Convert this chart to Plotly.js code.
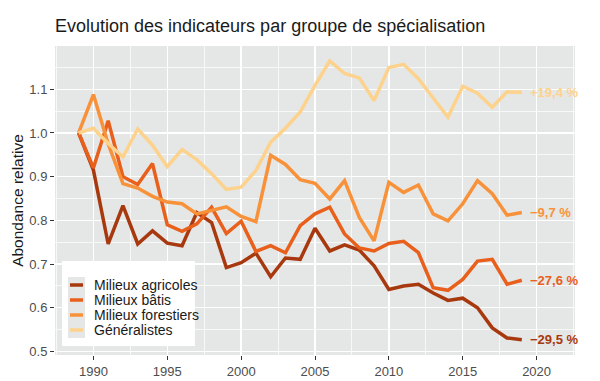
<!DOCTYPE html>
<html>
<head>
<meta charset="utf-8">
<script src="https://cdn.plot.ly/plotly-3.0.1.min.js"></script>
<style>html,body{margin:0;padding:0;background:#fff;}#chart{width:600px;height:381px;}</style>
</head>
<body>
<div id="chart"></div>
<script>
const years = [1989,1990,1991,1992,1993,1994,1995,1996,1997,1998,1999,2000,2001,2002,2003,2004,2005,2006,2007,2008,2009,2010,2011,2012,2013,2014,2015,2016,2017,2018,2019];

const agricoles = [1.0,0.915,0.746,0.834,0.746,0.776,0.748,0.742,0.818,0.795,0.692,0.703,0.725,0.671,0.714,0.711,0.782,0.730,0.744,0.732,0.696,0.642,0.650,0.654,0.634,0.617,0.622,0.600,0.554,0.531,0.527];
const batis = [1.0,0.920,1.028,0.900,0.882,0.930,0.790,0.775,0.792,0.830,0.770,0.798,0.729,0.742,0.726,0.788,0.815,0.830,0.769,0.737,0.730,0.747,0.752,0.726,0.646,0.640,0.665,0.707,0.711,0.654,0.663];
const forestiers = [1.0,1.088,0.975,0.884,0.874,0.855,0.842,0.838,0.815,0.824,0.831,0.809,0.797,0.949,0.928,0.893,0.885,0.849,0.891,0.807,0.753,0.887,0.864,0.881,0.815,0.799,0.838,0.891,0.861,0.812,0.818];
const generalistes = [1.0,1.011,0.976,0.945,1.009,0.972,0.923,0.962,0.939,0.907,0.871,0.876,0.914,0.979,1.011,1.048,1.109,1.165,1.136,1.126,1.074,1.150,1.157,1.124,1.080,1.036,1.107,1.091,1.059,1.094,1.093];

const seriesNames = ["Milieux agricoles","Milieux bâtis","Milieux forestiers","Généralistes"];
const endLabels = ["−29,5 %","−27,6 %","−9,7 %","+19,4 %"];
const seriesValues = [agricoles, batis, forestiers, generalistes];
const colors = ["#a8390e","#e8601c","#f8923a","#fdd28c"];

const FONT = "Liberation Sans, Arial, sans-serif";
const M = {l: 55, r: 24.5, t: 46, b: 26};
const W = 600, H = 381;
const pw = W - M.l - M.r, ph = H - M.t - M.b;
const px = v => (v - M.l) / pw;
const py = v => (H - M.b - v) / ph;

const traces = seriesValues.map((vals, i) => ({
  x: years, y: vals, type: "scatter", mode: "lines",
  name: seriesNames[i], showlegend: false,
  line: {color: colors[i], width: 3.5}
}));

const annotations = seriesValues.map((vals, i) => ({
  x: years[years.length-1], y: vals[vals.length-1], xref: "x", yref: "y",
  text: "<b>" + endLabels[i] + "</b>", showarrow: false,
  xanchor: "left", yanchor: "middle", xshift: 6,
  font: {family: FONT, size: 13, color: colors[i]}
}));

// manual legend (ggplot style)
const shapes = [
  {type: "rect", xref: "paper", yref: "paper", x0: px(62), x1: px(195), y0: py(346), y1: py(261),
   fillcolor: "#ffffff", line: {width: 0}, layer: "above"},
  {type: "rect", xref: "paper", yref: "paper", x0: px(68), x1: px(85), y0: py(338), y1: py(277),
   fillcolor: "#e5e7e6", line: {width: 0}, layer: "above"}
];
seriesNames.forEach((n, i) => {
  const yy = 285 + 15 * i;
  shapes.push({type: "line", xref: "paper", yref: "paper", x0: px(70), x1: px(83), y0: py(yy), y1: py(yy),
    line: {color: colors[i], width: 3.5}, layer: "above"});
  annotations.push({xref: "paper", yref: "paper", x: px(92), y: py(yy), text: n, showarrow: false,
    xanchor: "left", yanchor: "middle", font: {family: FONT, size: 14, color: "#1a1a1a"}});
});

const layout = {
  width: W, height: H,
  margin: M,
  paper_bgcolor: "#ffffff",
  plot_bgcolor: "#e5e7e6",
  font: {family: FONT, color: "#4d4d4d"},
  title: {text: "Evolution des indicateurs par groupe de spécialisation",
          x: 55/600, xanchor: "left", xref: "container",
          y: 1 - 26/381, yanchor: "middle", yref: "container",
          font: {size: 18, color: "#1a1a1a", family: FONT}},
  xaxis: {
    range: [1987.4, 2022.6], tick0: 1990, dtick: 5,
    showgrid: true, gridcolor: "#ffffff", gridwidth: 1.3,
    minor: {dtick: 2.5, tick0: 1990, showgrid: true, gridcolor: "#ffffff", gridwidth: 0.7},
    ticks: "outside", ticklen: 4, tickcolor: "#333333", tickwidth: 1,
    tickfont: {size: 13, color: "#4d4d4d"},
    zeroline: false, showline: false
  },
  yaxis: {
    range: [0.492, 1.199], tick0: 0.5, dtick: 0.1, tickformat: ".1f",
    showgrid: true, gridcolor: "#ffffff", gridwidth: 1.3,
    minor: {dtick: 0.05, tick0: 0.5, showgrid: true, gridcolor: "#ffffff", gridwidth: 0.7},
    ticks: "outside", ticklen: 4, tickcolor: "#333333", tickwidth: 1,
    tickfont: {size: 13, color: "#4d4d4d"},
    zeroline: false, showline: false,
    title: {text: "Abondance relative", font: {size: 15.5, color: "#1a1a1a"}, standoff: 1}
  },
  showlegend: false,
  shapes: shapes,
  annotations: annotations
};

Plotly.newPlot("chart", traces, layout, {displayModeBar: false, staticPlot: true});
</script>
</body>
</html>
